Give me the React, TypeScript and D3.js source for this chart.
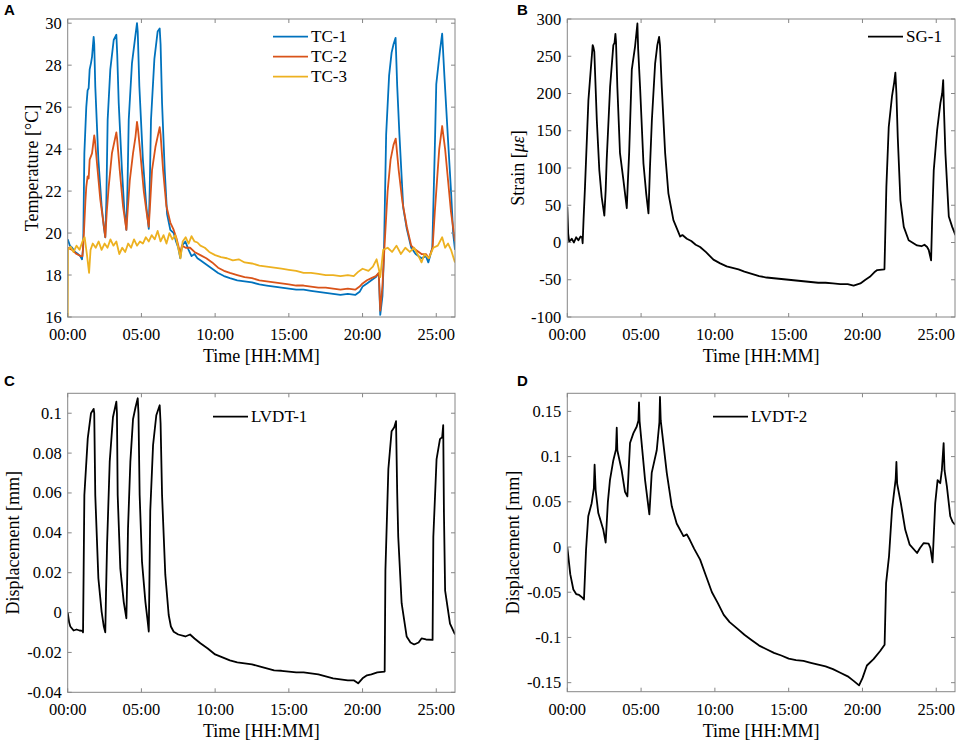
import React from 'react';
import * as d3 from 'd3';

// time in hours, value
const tc1: [number, number][] = [
  [0, 19.7], [0.15, 19.4], [0.3, 19.3], [0.5, 19.1], [0.7, 19.0], [0.85, 18.9], [0.97, 18.75], [1.05, 19.3],
  [1.13, 23.8], [1.26, 26.0], [1.35, 26.8], [1.42, 26.9], [1.49, 27.8], [1.58, 28.1], [1.65, 28.4], [1.72, 29.0],
  [1.76, 29.35], [1.8, 29.0], [1.87, 27.0], [2.08, 23.5], [2.3, 21.3], [2.45, 20.3], [2.55, 19.8], [2.62, 21.5],
  [2.71, 25.4], [2.89, 27.8], [3.12, 29.2], [3.3, 29.45], [3.36, 28.5], [3.46, 26.2], [3.68, 23.0], [3.84, 21.1],
  [3.98, 20.15], [4.05, 22.0], [4.14, 25.4], [4.36, 28.1], [4.59, 29.4], [4.7, 30.0], [4.75, 29.6], [4.86, 27.0],
  [5.1, 23.5], [5.33, 21.3], [5.5, 20.2], [5.56, 22.0], [5.65, 25.4], [5.88, 28.3], [6.1, 29.6], [6.24, 29.75],
  [6.3, 29.0], [6.4, 26.2], [6.58, 23.0], [6.74, 20.9], [6.96, 20.15], [7.19, 20.0], [7.35, 19.6], [7.5, 19.3],
  [7.64, 18.8], [7.75, 19.4], [7.98, 19.6], [8.2, 19.2], [8.4, 18.9], [8.6, 19.0], [8.8, 18.8], [9.0, 18.7],
  [9.4, 18.5], [9.8, 18.3], [10.2, 18.1], [10.6, 17.95], [11.0, 17.85], [11.5, 17.75], [12.0, 17.7],
  [12.5, 17.65], [13.0, 17.55], [13.5, 17.5], [14.0, 17.45], [14.5, 17.4], [15.0, 17.35], [15.5, 17.3],
  [16.0, 17.3], [16.5, 17.25], [17.0, 17.2], [17.5, 17.15], [18.0, 17.1], [18.5, 17.05], [19.0, 17.1],
  [19.5, 17.05], [19.8, 17.2], [20.0, 17.45], [20.3, 17.6], [20.6, 17.75], [20.9, 17.9], [21.1, 18.1],
  [21.2, 16.1], [21.35, 17.0], [21.45, 19.0], [21.6, 24.7], [21.8, 27.5], [21.97, 28.6], [22.1, 29.0],
  [22.24, 29.3], [22.35, 27.0], [22.5, 24.7], [22.76, 21.2], [23.0, 20.2], [23.3, 19.3], [23.6, 19.0],
  [24.0, 18.8], [24.3, 18.9], [24.46, 18.6], [24.73, 19.3], [24.9, 24.0], [25.0, 27.1], [25.25, 28.7],
  [25.4, 29.5], [25.55, 27.5], [25.8, 24.4], [26.0, 22.0], [26.15, 19.95], [26.27, 19.2],
];

const tc2: [number, number][] = [
  [0, 19.3], [0.3, 19.2], [0.6, 19.0], [0.9, 18.9], [1.0, 18.9], [1.1, 20.0], [1.2, 21.5], [1.26, 22.2],
  [1.35, 22.7], [1.42, 22.6], [1.49, 23.5], [1.65, 23.8], [1.8, 24.65], [1.85, 24.4], [1.99, 23.3], [2.21, 21.6],
  [2.4, 20.6], [2.55, 19.8], [2.65, 21.0], [2.78, 22.2], [3.0, 23.8], [3.3, 24.8], [3.35, 24.5], [3.53, 23.0],
  [3.75, 21.3], [3.98, 20.15], [4.08, 21.2], [4.21, 22.5], [4.43, 23.8], [4.6, 24.6], [4.7, 25.3], [4.76, 25.0],
  [4.93, 23.8], [5.16, 22.0], [5.35, 21.0], [5.5, 20.3], [5.6, 21.5], [5.72, 23.0], [5.95, 24.1], [6.24, 25.05],
  [6.3, 24.7], [6.47, 23.0], [6.69, 21.3], [6.96, 20.5], [7.19, 20.15], [7.4, 19.7], [7.64, 19.0], [7.75, 19.4],
  [8.0, 19.3], [8.3, 19.3], [8.6, 19.1], [9.0, 18.95], [9.4, 18.8], [9.8, 18.6], [10.2, 18.35], [10.6, 18.2],
  [11.0, 18.1], [11.5, 18.0], [12.0, 17.9], [12.5, 17.85], [13.0, 17.75], [13.5, 17.7], [14.0, 17.65],
  [14.5, 17.6], [15.0, 17.55], [15.5, 17.5], [16.0, 17.5], [16.5, 17.45], [17.0, 17.4], [17.5, 17.4],
  [18.0, 17.35], [18.5, 17.3], [19.0, 17.35], [19.5, 17.3], [19.8, 17.45], [20.0, 17.6], [20.3, 17.75],
  [20.6, 17.85], [20.9, 17.95], [21.1, 18.1], [21.2, 16.3], [21.35, 17.5], [21.5, 19.5], [21.7, 22.0],
  [21.9, 23.5], [22.1, 24.2], [22.25, 24.5], [22.45, 23.0], [22.7, 21.5], [23.0, 20.3], [23.3, 19.4],
  [23.6, 19.2], [24.0, 19.0], [24.3, 19.0], [24.5, 18.8], [24.75, 19.3], [24.9, 21.0], [25.05, 22.5],
  [25.2, 24.0], [25.4, 25.1], [25.6, 24.0], [25.8, 22.5], [26.0, 21.0], [26.27, 19.6],
];

const tc3: [number, number][] = [
  [0, 16.0], [0.02, 19.2], [0.2, 19.35], [0.4, 19.1], [0.6, 19.4], [0.8, 19.2], [1.0, 19.6], [1.15, 19.8],
  [1.3, 19.0], [1.45, 18.1], [1.55, 19.2], [1.7, 19.5], [1.9, 19.3], [2.1, 19.6], [2.3, 19.2], [2.5, 19.5],
  [2.7, 19.3], [2.9, 19.7], [3.1, 19.4], [3.3, 19.6], [3.5, 19.0], [3.7, 19.3], [3.9, 19.1], [4.1, 19.5],
  [4.3, 19.3], [4.5, 19.7], [4.7, 19.4], [4.9, 19.6], [5.1, 19.5], [5.3, 19.8], [5.5, 19.6], [5.7, 19.9],
  [5.9, 19.7], [6.1, 20.1], [6.3, 19.6], [6.5, 19.9], [6.7, 19.5], [6.9, 20.0], [7.1, 19.7], [7.3, 19.9],
  [7.5, 19.3], [7.65, 18.8], [7.8, 19.6], [8.0, 19.8], [8.2, 19.5], [8.4, 19.85], [8.6, 19.6], [8.8, 19.55],
  [9.0, 19.4], [9.3, 19.3], [9.6, 19.1], [10.0, 18.95], [10.4, 18.85], [10.8, 18.8], [11.2, 18.7],
  [11.6, 18.75], [12.0, 18.6], [12.5, 18.55], [13.0, 18.45], [13.5, 18.4], [14.0, 18.35], [14.5, 18.3],
  [15.0, 18.25], [15.5, 18.2], [16.0, 18.1], [16.5, 18.1], [17.0, 18.05], [17.5, 18.0], [18.0, 18.0],
  [18.5, 17.95], [19.0, 18.0], [19.4, 17.95], [19.7, 18.15], [20.0, 18.3], [20.4, 18.2], [20.7, 18.4],
  [20.95, 18.75], [21.1, 18.3], [21.2, 17.9], [21.4, 19.2], [21.7, 19.3], [22.0, 19.1], [22.3, 19.4],
  [22.6, 19.0], [22.9, 19.3], [23.2, 19.1], [23.5, 19.3], [23.8, 18.9], [24.0, 18.6], [24.2, 19.0],
  [24.5, 18.8], [24.8, 19.3], [25.1, 19.4], [25.4, 19.8], [25.6, 19.3], [25.8, 19.5], [26.0, 19.2],
  [26.27, 18.6],
];

const sg1: [number, number][] = [
  [0, 48], [0.06, 12], [0.13, 1], [0.3, 5], [0.45, 0], [0.6, 7], [0.75, 3], [0.9, 8], [1.0, 7], [1.04, -1],
  [1.1, 30], [1.2, 75], [1.43, 191], [1.59, 232], [1.72, 265], [1.77, 262], [1.83, 256], [2.0, 164],
  [2.17, 97], [2.33, 61], [2.51, 36], [2.6, 70], [2.67, 111], [2.9, 209], [3.12, 265], [3.2, 268],
  [3.26, 280], [3.3, 270], [3.39, 209], [3.57, 120], [3.8, 84], [4.03, 46], [4.1, 80], [4.19, 120],
  [4.37, 232], [4.59, 263], [4.75, 294], [4.8, 260], [4.93, 209], [5.16, 106], [5.35, 65], [5.5, 39],
  [5.6, 100], [5.73, 164], [5.95, 240], [6.1, 265], [6.22, 276], [6.28, 265], [6.4, 209], [6.63, 120],
  [6.85, 66], [7.19, 30], [7.4, 20], [7.65, 8], [7.8, 10], [8.1, 5], [8.4, 2], [8.7, -3], [9.0, -6],
  [9.4, -13], [9.9, -23], [10.36, -28], [10.8, -32], [11.2, -34], [11.6, -36], [12.0, -39], [12.5, -42],
  [13.0, -45], [13.5, -47], [14.0, -48], [14.5, -49], [15.0, -50], [15.5, -51], [16.0, -52], [16.5, -53],
  [17.0, -54], [17.5, -54], [18.0, -55], [18.5, -56], [19.0, -56], [19.4, -58], [19.86, -55], [20.2, -50],
  [20.5, -46], [20.8, -40], [21.0, -37], [21.49, -36], [21.62, 75], [21.78, 155], [22.0, 196], [22.15, 215],
  [22.23, 228], [22.3, 200], [22.39, 142], [22.57, 57], [22.8, 21], [23.13, 3], [23.7, -4], [24.0, -5],
  [24.2, -3], [24.38, -6], [24.49, -10], [24.65, -24], [24.72, 30], [24.83, 97], [25.06, 151], [25.28, 187],
  [25.4, 200], [25.47, 218], [25.52, 180], [25.62, 120], [25.85, 35], [26.08, 21], [26.3, 10],
];

const lvdt1: [number, number][] = [
  [0, 0], [0.1, -0.005], [0.18, -0.007], [0.4, -0.009], [0.6, -0.0085], [0.8, -0.009], [1.0, -0.0092],
  [1.04, -0.0099], [1.08, 0.02], [1.13, 0.059], [1.36, 0.0874], [1.58, 0.1], [1.76, 0.1022], [1.8, 0.1],
  [1.87, 0.059], [2.08, 0.0172], [2.3, 0.0005], [2.45, -0.007], [2.55, -0.0099], [2.6, 0.01], [2.67, 0.0339],
  [2.85, 0.0757], [3.07, 0.098], [3.3, 0.1058], [3.34, 0.1], [3.39, 0.059], [3.57, 0.022], [3.8, 0.0054],
  [3.98, -0.0029], [4.03, 0.015], [4.09, 0.042], [4.25, 0.0757], [4.43, 0.097], [4.6, 0.103], [4.75, 0.1075],
  [4.8, 0.1], [4.88, 0.059], [5.04, 0.0255], [5.27, 0.0054], [5.42, -0.004], [5.5, -0.0096], [5.55, 0.02],
  [5.6, 0.051], [5.79, 0.084], [6.01, 0.099], [6.24, 0.104], [6.3, 0.095], [6.4, 0.059], [6.62, 0.019],
  [6.85, -0.0012], [7.0, -0.007], [7.19, -0.0096], [7.5, -0.011], [7.98, -0.012], [8.3, -0.011],
  [8.6, -0.013], [9.0, -0.0154], [9.5, -0.018], [10.0, -0.021], [10.5, -0.0225], [11.0, -0.024],
  [11.5, -0.025], [12.0, -0.0255], [12.5, -0.026], [13.0, -0.027], [13.5, -0.028], [14.0, -0.029],
  [14.5, -0.0292], [15.0, -0.0296], [15.5, -0.03], [16.0, -0.03], [16.5, -0.0305], [17.0, -0.031],
  [17.5, -0.032], [18.0, -0.033], [18.5, -0.0335], [19.0, -0.034], [19.4, -0.034], [19.7, -0.0355],
  [20.0, -0.033], [20.3, -0.0315], [20.6, -0.031], [21.0, -0.03], [21.5, -0.0296], [21.55, 0.021],
  [21.75, 0.072], [21.97, 0.091], [22.15, 0.093], [22.27, 0.096], [22.35, 0.06], [22.42, 0.038],
  [22.65, 0.0047], [22.99, -0.012], [23.25, -0.015], [23.5, -0.016], [23.8, -0.015], [24.0, -0.013],
  [24.3, -0.0135], [24.75, -0.0137], [24.8, 0.038], [25.02, 0.077], [25.25, 0.087], [25.4, 0.088],
  [25.47, 0.094], [25.52, 0.05], [25.6, 0.011], [25.93, -0.0055], [26.27, -0.011],
];

const lvdt2: [number, number][] = [
  [0, 0], [0.2, -0.03], [0.41, -0.047], [0.6, -0.052], [0.8, -0.053], [1.02, -0.056], [1.13, -0.058],
  [1.27, -0.003], [1.42, 0.034], [1.65, 0.0485], [1.8, 0.065], [1.85, 0.091], [1.92, 0.063], [2.1, 0.0375],
  [2.44, 0.019], [2.6, 0.005], [2.75, 0.05], [2.89, 0.074], [3.12, 0.096], [3.3, 0.108], [3.35, 0.132],
  [3.39, 0.107], [3.68, 0.085], [3.91, 0.061], [4.07, 0.056], [4.25, 0.115], [4.48, 0.126], [4.7, 0.133],
  [4.82, 0.14], [4.86, 0.16], [4.9, 0.139], [5.27, 0.074], [5.56, 0.036], [5.72, 0.082], [6.06, 0.107],
  [6.24, 0.138], [6.28, 0.166], [6.33, 0.14], [6.74, 0.082], [7.08, 0.045], [7.41, 0.026], [7.87, 0.012],
  [8.1, 0.014], [8.3, 0.008], [8.6, -0.002], [9.0, -0.014], [9.4, -0.032], [9.8, -0.05], [10.2, -0.062],
  [10.6, -0.075], [11.0, -0.083], [11.5, -0.09], [12.0, -0.097], [12.5, -0.103], [13.0, -0.109],
  [13.5, -0.113], [14.0, -0.117], [14.5, -0.12], [15.0, -0.1235], [15.5, -0.125], [16.0, -0.126],
  [16.5, -0.128], [17.0, -0.13], [17.5, -0.132], [18.0, -0.135], [18.5, -0.139], [19.0, -0.143],
  [19.4, -0.148], [19.77, -0.153], [20.0, -0.145], [20.3, -0.131], [20.75, -0.124], [21.2, -0.115],
  [21.5, -0.108], [21.6, -0.04], [21.8, -0.01], [22.0, 0.041], [22.25, 0.075], [22.3, 0.094], [22.35, 0.07],
  [22.6, 0.0485], [22.9, 0.019], [23.2, 0.0026], [23.7, -0.0066], [23.9, -0.001], [24.15, 0.0044],
  [24.48, 0.0037], [24.6, -0.001], [24.75, -0.017], [24.93, 0.0485], [25.09, 0.074], [25.27, 0.0706],
  [25.38, 0.085], [25.5, 0.115], [25.56, 0.085], [25.72, 0.067], [25.95, 0.034], [26.1, 0.028],
  [26.27, 0.0246],
];

const timeTicks = [0, 5, 10, 15, 20, 25];
const tempTicks = [16, 18, 20, 22, 24, 26, 28, 30];
const strainTicks = [-100, -50, 0, 50, 100, 150, 200, 250, 300];
const disp1Ticks = [-0.04, -0.02, 0, 0.02, 0.04, 0.06, 0.08, 0.1];
const disp2Ticks = [-0.15, -0.1, -0.05, 0, 0.05, 0.1, 0.15];

const SERIF = '"Liberation Serif", "Times New Roman", serif';
const FRAME = '#868686';

type Series = { name: string; data: [number, number][]; color: string };

const fmtTime = (h: number) => `${String(h).padStart(2, '0')}:00`;

const Panel = ({ id, letter, x0, y0, x1, y1, yDomain, yTicks, yLabel, series, legend }: any) => {
  const x = d3.scaleLinear().domain([0, 26.27]).range([x0, x1]);
  const y = d3.scaleLinear().domain(yDomain).range([y1, y0]);
  const line = d3.line<[number, number]>().x((d) => x(d[0])).y((d) => y(d[1]));
  const tl = 4;
  return (
    <g>
      <defs>
        <clipPath id={`clip-${id}`}>
          <rect x={x0} y={y0} width={x1 - x0} height={y1 - y0} />
        </clipPath>
      </defs>
      <text x={letter.x} y={letter.y} fontFamily='"Liberation Sans", Arial, sans-serif' fontWeight="bold" fontSize={15}>
        {letter.t}
      </text>
      <g clipPath={`url(#clip-${id})`}>
        {series.map((s: Series) => (
          <path key={s.name} d={line(s.data) || ''} fill="none" stroke={s.color} strokeWidth={1.8} strokeLinejoin="round" />
        ))}
      </g>
      <rect x={x0} y={y0} width={x1 - x0} height={y1 - y0} fill="none" stroke={FRAME} strokeWidth={1} />
      {timeTicks.map((t) => (
        <g key={`x${t}`}>
          <line x1={x(t)} x2={x(t)} y1={y1} y2={y1 - tl} stroke={FRAME} />
          <line x1={x(t)} x2={x(t)} y1={y0} y2={y0 + tl} stroke={FRAME} />
          <text x={x(t)} y={y1 + 23} textAnchor="middle" fontFamily={SERIF} fontSize={16.5}>
            {fmtTime(t)}
          </text>
        </g>
      ))}
      {yTicks.map((v: number) => (
        <g key={`y${v}`}>
          <line x1={x0} x2={x0 + tl} y1={y(v)} y2={y(v)} stroke={FRAME} />
          <line x1={x1} x2={x1 - tl} y1={y(v)} y2={y(v)} stroke={FRAME} />
          <text x={x0 - 6} y={y(v) + 5.5} textAnchor="end" fontFamily={SERIF} fontSize={16.5}>
            {`${v}`}
          </text>
        </g>
      ))}
      <text x={(x0 + x1) / 2} y={y1 + 45} textAnchor="middle" fontFamily={SERIF} fontSize={18}>
        Time [HH:MM]
      </text>
      <text
        transform={`translate(${yLabel.x},${(y0 + y1) / 2}) rotate(-90)`}
        textAnchor="middle"
        fontFamily={SERIF}
        fontSize={18}
      >
        {yLabel.content}
      </text>
      {series.map((s: Series, i: number) => (
        <g key={`lg${s.name}`}>
          <line x1={legend.x} x2={legend.x + 35} y1={legend.y + i * 20} y2={legend.y + i * 20} stroke={s.color} strokeWidth={1.8} />
          <text x={legend.x + 38} y={legend.y + i * 20 + 5.5} fontFamily={SERIF} fontSize={17}>
            {s.name}
          </text>
        </g>
      ))}
    </g>
  );
};

export default function App() {
  return (
    <svg width={962} height={742} style={{ display: 'block', position: 'absolute', left: 0, top: 0, background: '#fff' }}>
      <Panel
        id="a"
        letter={{ t: 'A', x: 4, y: 15 }}
        x0={67.7}
        y0={19}
        x1={455}
        y1={317}
        yDomain={[16, 30.2]}
        yTicks={tempTicks}
        yLabel={{ x: 38, content: 'Temperature [°C]' }}
        series={[
          { name: 'TC-1', data: tc1, color: '#0072BD' },
          { name: 'TC-2', data: tc2, color: '#D95319' },
          { name: 'TC-3', data: tc3, color: '#EDB120' },
        ]}
        legend={{ x: 273, y: 36.7 }}
      />
      <Panel
        id="b"
        letter={{ t: 'B', x: 517, y: 15 }}
        x0={567.3}
        y0={19}
        x1={955}
        y1={317}
        yDomain={[-100, 300]}
        yTicks={strainTicks}
        yLabel={{
          x: 524,
          content: (
            <>
              Strain [<tspan fontStyle="italic">με</tspan>]
            </>
          ),
        }}
        series={[{ name: 'SG-1', data: sg1, color: '#000' }]}
        legend={{ x: 868, y: 36.7 }}
      />
      <Panel
        id="c"
        letter={{ t: 'C', x: 4, y: 386 }}
        x0={67.7}
        y0={393.3}
        x1={455}
        y1={692.3}
        yDomain={[-0.04, 0.11]}
        yTicks={disp1Ticks}
        yLabel={{ x: 19, content: 'Displacement [mm]' }}
        series={[{ name: 'LVDT-1', data: lvdt1, color: '#000' }]}
        legend={{ x: 213, y: 416.7 }}
      />
      <Panel
        id="d"
        letter={{ t: 'D', x: 517, y: 386 }}
        x0={567.3}
        y0={393.3}
        x1={955}
        y1={691.7}
        yDomain={[-0.16, 0.17]}
        yTicks={disp2Ticks}
        yLabel={{ x: 519, content: 'Displacement [mm]' }}
        series={[{ name: 'LVDT-2', data: lvdt2, color: '#000' }]}
        legend={{ x: 713, y: 416.7 }}
      />
    </svg>
  );
}
